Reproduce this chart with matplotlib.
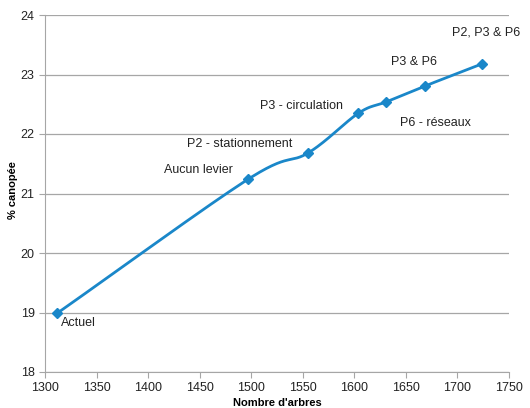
import numpy as np
import matplotlib
matplotlib.use("Agg")
import matplotlib.pyplot as plt

plt.rcParams["font.family"] = ["Liberation Sans", "DejaVu Sans"]

arbres = [1312, 1497, 1555, 1604, 1631, 1669, 1724]
canopee = [18.99, 21.24, 21.68, 22.35, 22.54, 22.81, 23.18]
labels = ["Actuel", "Aucun levier", "P2 - stationnement", "P3 - circulation",
          "P6 - réseaux", "P3 & P6", "P2, P3 & P6"]
# label offsets in pixels, alignment
offsets = [(4, -10, "left"), (-15, 9, "right"), (-16, 9, "right"), (-15, 7, "right"),
           (14, -21, "left"), (-11, 24, "center"), (4, 31, "center")]

color = "#1a87c9"


def smooth(x, y, n=30):
    # Catmull-Rom spline through the points (like Excel's smoothed line)
    x = np.asarray(x, float)
    y = np.asarray(y, float)
    px = np.concatenate([[2 * x[0] - x[1]], x, [2 * x[-1] - x[-2]]])
    py = np.concatenate([[2 * y[0] - y[1]], y, [2 * y[-1] - y[-2]]])
    xs, ys = [], []
    t = np.linspace(0, 1, n)
    for i in range(1, len(px) - 2):
        for p, out in ((px, xs), (py, ys)):
            p0, p1, p2, p3 = p[i - 1], p[i], p[i + 1], p[i + 2]
            out.append(0.5 * (2 * p1 + (-p0 + p2) * t
                              + (2 * p0 - 5 * p1 + 4 * p2 - p3) * t ** 2
                              + (-p0 + 3 * p1 - 3 * p2 + p3) * t ** 3))
    return np.concatenate(xs), np.concatenate(ys)


fig = plt.figure(figsize=(5.3, 4.08), dpi=100)
ax = fig.add_axes([45 / 530, 1 - 372 / 408, (509 - 45) / 530, (372 - 15) / 408])

sx, sy = smooth(arbres, canopee)
ax.plot(sx, sy, color=color, lw=2, zorder=3)
ax.plot(arbres, canopee, ls="none", marker="D", ms=5, color=color, zorder=4)

for x, y, lab, (dx, dy, ha) in zip(arbres, canopee, labels, offsets):
    ax.annotate(lab, (x, y), xytext=(dx, dy), textcoords="offset pixels",
                ha=ha, va="center", fontsize=9, color="#222222")

ax.set_xlim(1300, 1750)
ax.set_ylim(18, 24)
ax.set_xticks(np.arange(1300, 1751, 50))
ax.set_yticks(np.arange(18, 25, 1))
ax.grid(axis="y", color="#a6a6a6", lw=0.9)
ax.set_axisbelow(True)
for s in ["top", "right"]:
    ax.spines[s].set_visible(False)
for s in ["left", "bottom"]:
    ax.spines[s].set_color("#a6a6a6")
ax.tick_params(axis="both", colors="#a6a6a6", labelcolor="#222222", labelsize=9, length=4)

fig.text(277 / 530, 1 - 403 / 408, "Nombre d'arbres", fontsize=8, fontweight="bold",
         ha="center", va="center")
fig.text(13 / 530, 1 - 190 / 408, "% canopée", fontsize=8, fontweight="bold",
         ha="center", va="center", rotation=90)

fig.savefig("out.png", dpi=100)
